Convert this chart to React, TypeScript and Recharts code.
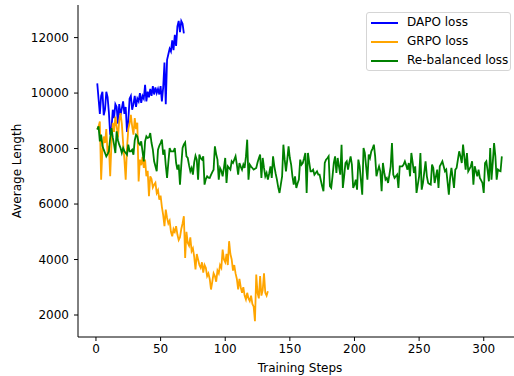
import React from "react";
import { LineChart, Line, XAxis, YAxis } from "recharts";

// average response length per training step
const dapoLoss = [
  10350, 9800, 9250, 9900, 10050, 9200, 9400, 10050, 9850, 9300,
  8500, 8700, 9400, 9100, 9600, 9500, 8900, 9600, 9200, 9450,
  9700, 9250, 9500, 8600, 9000, 9800, 9900, 9400, 9600, 9900,
  9500, 9800, 9700, 10000, 9650, 9900, 9800, 10300, 9700, 10050,
  9850, 10150, 9900, 10250, 9950, 10200, 10000, 10150, 9950, 10250,
  9700, 10200, 11100, 9600, 11200, 11400, 11600, 11500, 11900, 11550,
  12100, 11700, 12400, 12600, 12200, 12600, 12500, 12150,
];

const grpoLoss = [
  8700, 8800, 8975, 6880, 8000, 8435, 8200, 8700, 7800, 8100,
  7000, 8200, 8930, 8600, 9150, 8800, 8400, 9000, 9280, 8900,
  8200, 7600, 6880, 8000, 8700, 8900, 9215, 8800, 8500, 9100,
  8700, 8930, 6815, 7600, 7400, 7700, 7300, 7600, 7000, 7200,
  6280, 7000, 6900, 6600, 6700, 6770, 6400, 6500, 6160, 6300,
  5900, 5600, 5200, 5800, 5500, 5300, 5400, 5000, 4840, 5100,
  5000, 5200, 4900, 4700, 4800, 5100, 5300, 5560, 4060, 5000,
  4600, 4500, 4800, 4300, 4400, 4100, 3640, 4200, 4000, 3800,
  3700, 3900, 3530, 3800, 3700, 3400, 3500, 3300, 2920, 3200,
  3500, 3400, 3200, 3600, 3500, 3800, 3700, 4360, 4000, 3900,
  4200, 3800, 4660, 4200, 4000, 3600, 3800, 3500, 3300, 2920,
  3300, 3000, 2800, 3000, 2700, 2560, 2800, 2600, 2500, 2700,
  2400, 2300, 1780, 3460, 2800, 2600, 3400, 2700, 2900, 3500,
  2800, 2700, 2860,
];

const rebalancedLoss = [
  8680, 8800, 8260, 8500, 8100, 7960, 7840, 7720, 7800, 7900,
  8380, 8740, 8400, 8140, 7840, 8620, 8300, 8140, 8020, 7840,
  8020, 7900, 7840, 7780, 8140, 7900, 7900, 7960, 7780, 8300,
  8500, 8440, 8200, 8140, 8260, 7900, 7540, 8260, 8440, 8380,
  8400, 8560, 8200, 7960, 7540, 7360, 7180, 7960, 8100, 8200,
  8320, 7780, 7960, 7400, 6940, 7500, 8020, 7900, 7900, 7900,
  8020, 7480, 7240, 7420, 6700, 7400, 8020, 8150, 8220, 7720,
  7660, 7400, 7180, 7300, 7060, 7500, 7740, 7600, 6880, 7780,
  7650, 7600, 7720, 6700, 6900, 7000, 6950, 6940, 7050, 7150,
  7240, 8080, 7800, 7600, 6880, 7300, 7200, 7000, 7300, 7660,
  6760, 7360, 7300, 7240, 7540, 7480, 7600, 7720, 7420, 7060,
  7480, 7350, 7240, 7420, 7300, 7700, 8320, 6880, 7420, 7350,
  7300, 7240, 7270, 7300, 7500, 7650, 7780, 6940, 7660, 7300,
  7000, 7120, 6880, 7100, 7360, 6940, 7720, 7360, 7100, 6880,
  6600, 6400, 6700, 7000, 8140, 7600, 7180, 7600, 8080, 7660,
  7420, 7000, 6700, 7000, 6580, 6750, 6880, 7600, 7420, 7480,
  7650, 7840, 6400, 7840, 7500, 7180, 7180, 7240, 7060, 7120,
  7180, 7060, 7060, 6850, 6640, 6460, 7480, 7600, 7650, 7720,
  6640, 6580, 7000, 7480, 7720, 7120, 7660, 7350, 7060, 8140,
  6580, 7000, 7480, 7540, 7240, 7500, 7720, 7420, 6580, 6700,
  6880, 6520, 7600, 7360, 6850, 6340, 8020, 7840, 7350, 6880,
  7780, 7660, 7900, 8000, 8140, 7720, 7000, 7200, 7360, 7180,
  6460, 7480, 7150, 6880, 6940, 6760, 7050, 7360, 8200, 7060,
  6940, 7000, 7060, 6580, 7360, 7360, 7360, 7420, 7540, 7400,
  7240, 7480, 7000, 7840, 7500, 7120, 7360, 6400, 6700, 7000,
  7840, 6520, 6760, 7150, 7540, 7000, 6760, 6720, 6700, 7420,
  7300, 6760, 7000, 7240, 6580, 7360, 7450, 7540, 7360, 7180,
  7240, 6800, 6340, 6940, 7300, 6950, 6580, 7240, 7300, 7600,
  7900, 7720, 7480, 8140, 7700, 7240, 7840, 7180, 7270, 7360,
  7540, 6700, 7360, 7180, 7000, 7240, 6940, 6850, 6760, 6400,
  7480, 7540, 7200, 6820, 8020, 6880, 7500, 8200, 7720, 6880,
  7240, 7200, 7180, 7720,
];

const xTicks = [0, 50, 100, 150, 200, 250, 300];
const yTicks = [2000, 4000, 6000, 8000, 10000, 12000];

const series = [
  { key: "dapo", name: "DAPO loss", color: "#0000ff" },
  { key: "grpo", name: "GRPO loss", color: "#ffa500" },
  { key: "rebalanced", name: "Re-balanced loss", color: "#008000" },
];

const rows = rebalancedLoss.map((v, i) => ({
  step: i + 1,
  dapo: dapoLoss[i],
  grpo: grpoLoss[i],
  rebalanced: v,
}));

const font = "'DejaVu Sans', Verdana, sans-serif";
const tickStyle = { fill: "#000", fontSize: 12, fontFamily: font };

function LegendBox() {
  return (
    <div
      style={{
        position: "absolute",
        left: 366,
        top: 12,
        width: 145,
        height: 59,
        boxSizing: "border-box",
        border: "1px solid #d5d5d5",
        borderRadius: 3,
        background: "rgba(255,255,255,0.8)",
        fontFamily: font,
        fontSize: 12,
        color: "#000",
        padding: "0 0 0 4px",
      }}
    >
      {series.map((s) => (
        <div
          key={s.key}
          style={{
            display: "flex",
            alignItems: "center",
            height: 19,
            lineHeight: "19px",
          }}
        >
          <span
            style={{
              display: "inline-block",
              width: 27,
              height: 2,
              background: s.color,
              marginRight: 9,
            }}
          />
          {s.name}
        </div>
      ))}
    </div>
  );
}

export default function App() {
  return (
    <div
      style={{
        position: "fixed",
        left: 0,
        top: 0,
        width: 514,
        height: 376,
        overflow: "hidden",
        background: "#fff",
      }}
    >
      <LineChart
        width={530}
        height={376}
        data={rows}
        margin={{ top: 5, right: 8, left: 0, bottom: 0 }}
      >
        <XAxis
          dataKey="step"
          type="number"
          domain={[-13.9, 329.6]}
          allowDataOverflow
          ticks={xTicks}
          interval={0}
          height={39}
          tick={tickStyle}
          tickSize={4}
          tickMargin={3}
          stroke="#000"
          label={{
            value: "Training Steps",
            position: "insideBottom",
            offset: 4,
            style: { fill: "#000", fontSize: 12, fontFamily: font },
          }}
        />
        <XAxis
          xAxisId="top"
          orientation="top"
          dataKey="step"
          type="number"
          domain={[-13.9, 329.6]}
          height={0}
          tick={false}
          tickLine={false}
          stroke="#000"
        />
        <YAxis
          type="number"
          domain={[1207, 13175]}
          allowDataOverflow
          ticks={yTicks}
          interval={0}
          width={78}
          tick={tickStyle}
          tickSize={4}
          tickMargin={5}
          stroke="#000"
          label={{
            value: "Average Length",
            angle: -90,
            position: "insideLeft",
            offset: 17,
            style: {
              fill: "#000",
              fontSize: 12,
              fontFamily: font,
              textAnchor: "middle",
            },
          }}
        />
        {series.map((s) => (
          <Line
            key={s.key}
            dataKey={s.key}
            name={s.name}
            stroke={s.color}
            strokeWidth={1.8}
            dot={false}
            activeDot={false}
            type="linear"
            isAnimationActive={false}
          />
        ))}
      </LineChart>
      <LegendBox />
    </div>
  );
}
